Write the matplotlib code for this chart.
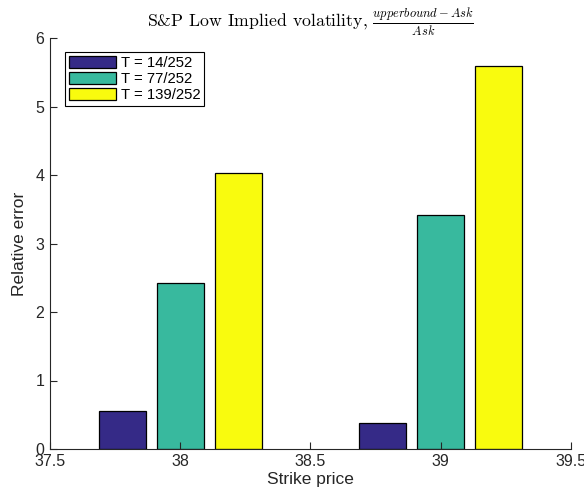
import numpy as np
import matplotlib
matplotlib.use('Agg')
import matplotlib.pyplot as plt

plt.rcParams['font.family'] = ['Liberation Sans', 'DejaVu Sans']
plt.rcParams['mathtext.fontset'] = 'cm'

# data
strikes = [38, 39]
series_labels = ['T = 14/252', 'T = 77/252', 'T = 139/252']
err_14 = [0.55, 0.38]
err_77 = [2.43, 3.42]
err_139 = [4.03, 5.59]
colors = ['#352a87', '#38b99e', '#f9fb0e']

fig = plt.figure(figsize=(5.84, 5.0), dpi=100)
ax = fig.add_axes([0.0856, 0.102, 0.892, 0.822])

x = np.array(strikes, dtype=float)
offs = [-0.223, 0.0, 0.223]
w = 0.18
for vals, off, c, lab in zip([err_14, err_77, err_139], offs, colors, series_labels):
    ax.bar(x + off, vals, width=w, color=c, edgecolor='black', linewidth=0.9, label=lab)

ax.set_xlim(37.5, 39.5)
ax.set_ylim(0, 6)
ax.set_xticks([37.5, 38, 38.5, 39, 39.5])
ax.set_xticklabels(['37.5', '38', '38.5', '39', '39.5'])
ax.set_yticks(range(7))
for s in ['top', 'right']:
    ax.spines[s].set_visible(False)
for s in ['left', 'bottom']:
    ax.spines[s].set_color('#262626')
    ax.spines[s].set_linewidth(0.8)
ax.tick_params(direction='in', length=5, width=0.8, colors='#262626', labelsize=11.5)
ax.tick_params(axis='y', pad=4)

ax.set_xlabel('Strike price', fontsize=12.5, color='#262626', labelpad=2)
ax.set_ylabel('Relative error', fontsize=12.5, color='#262626', labelpad=6)
ax.set_title(r'S&P Low Implied volatility, $\frac{upperbound-Ask}{Ask}$',
             fontsize=12.8, pad=7, family='cmr10')

leg = ax.legend(loc='upper left', bbox_to_anchor=(0.029, 0.966), fontsize=10.7,
                fancybox=False, framealpha=1, edgecolor='black',
                handlelength=3.2, handleheight=0.9, borderpad=0.25,
                labelspacing=0.12, handletextpad=0.3, borderaxespad=0)
leg.get_frame().set_linewidth(0.8)

fig.savefig('out.png', dpi=100)
